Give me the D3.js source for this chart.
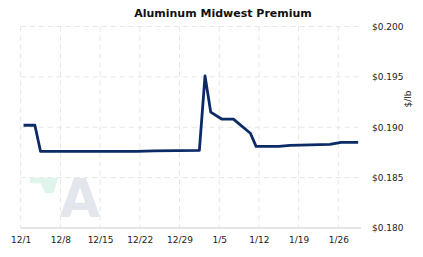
<!DOCTYPE html>
<html>
<head>
<meta charset="utf-8">
<script src="https://cdn.jsdelivr.net/npm/d3@7"></script>
<style>
  body { margin: 0; background: #fff; }
  text { font-family: "DejaVu Sans", Verdana, sans-serif; }
</style>
</head>
<body>
<div id="chart"></div>
<script>
var svgWidth = 423;
var svgHeight = 257;

// data
var dates = ["2018-12-01", "2018-12-03", "2018-12-04", "2018-12-21", "2018-12-24",
  "2019-01-01", "2019-01-02", "2019-01-03", "2019-01-05", "2019-01-07",
  "2019-01-10", "2019-01-11", "2019-01-15", "2019-01-17", "2019-01-24",
  "2019-01-26", "2019-01-29"];
var prices = [0.1902, 0.1902, 0.1876, 0.1876, 0.18765,
  0.1877, 0.1951, 0.1915, 0.1908, 0.1908,
  0.1894, 0.1881, 0.1881, 0.1882, 0.1883,
  0.1885, 0.1885];
var yTicks = [0.180, 0.185, 0.190, 0.195, 0.200];
var xTickLabels = ["12/1", "12/8", "12/15", "12/22", "12/29", "1/5", "1/12", "1/19", "1/26"];

var parseDate = d3.timeParse("%Y-%m-%d");
var start = parseDate("2018-12-01");
var end = parseDate("2019-01-30");

var data = dates.map(function(d, i) {
  // points sit mid-day
  return { date: d3.timeHour.offset(parseDate(d), 12), price: prices[i] };
});
var xTickDates = xTickLabels.map(function(d, i) { return d3.timeDay.offset(start, 7 * i); });

var margin = { top: 26.5, right: 62, bottom: 29, left: 20.7 };
var width = svgWidth - margin.left - margin.right;
var height = svgHeight - margin.top - margin.bottom;

var svg = d3.select("#chart")
  .append("svg")
  .attr("width", svgWidth)
  .attr("height", svgHeight);

// watermark
var mark = svg.append("g").attr("transform", "translate(30, 177.7)");
mark.append("path")
  .attr("d", "M0,0 L28.3,0 L23.3,15.6 L15,15.6 L10.7,5.6 L0,5.6 Z")
  .attr("fill", "#dff5ec");
mark.append("text")
  .attr("x", 50)
  .attr("y", 39.5)
  .attr("text-anchor", "middle")
  .attr("font-size", 53)
  .attr("font-weight", "bold")
  .attr("fill", "#e3e6ed")
  .text("A");

var chartGroup = svg.append("g")
  .attr("transform", `translate(${margin.left}, ${margin.top})`);

var xScale = d3.scaleTime().domain([start, end]).range([0, width]);
var yScale = d3.scaleLinear().domain([0.18, 0.2]).range([height, 0]);

// grid
chartGroup.append("g")
  .selectAll("line")
  .data(xTickDates)
  .enter()
  .append("line")
  .attr("x1", d => xScale(d)).attr("x2", d => xScale(d))
  .attr("y1", 0).attr("y2", height)
  .attr("stroke", "#e6e6e6")
  .attr("stroke-dasharray", "5,4");

chartGroup.append("g")
  .selectAll("line")
  .data(yTicks.filter(d => d > 0.18))
  .enter()
  .append("line")
  .attr("x1", 0).attr("x2", width)
  .attr("y1", d => yScale(d)).attr("y2", d => yScale(d))
  .attr("stroke", "#e6e6e6")
  .attr("stroke-dasharray", "5,4");

// base line
chartGroup.append("line")
  .attr("x1", 0).attr("x2", width)
  .attr("y1", height).attr("y2", height)
  .attr("stroke", "#e4e4e4")
  .attr("stroke-width", 2);

// x axis labels
var xAxis = d3.axisBottom(xScale)
  .tickValues(xTickDates)
  .tickFormat((d, i) => xTickLabels[i])
  .tickSize(0)
  .tickPadding(9);
chartGroup.append("g")
  .attr("transform", `translate(0, ${height})`)
  .call(xAxis)
  .call(g => g.select(".domain").remove())
  .selectAll("text")
  .attr("font-family", "DejaVu Sans, Verdana, sans-serif")
  .attr("font-size", 9)
  .attr("fill", "#222");

// y axis labels on right
var yAxis = d3.axisRight(yScale)
  .tickValues(yTicks)
  .tickFormat(d => "$" + d3.format(".3f")(d))
  .tickSize(0)
  .tickPadding(11);
chartGroup.append("g")
  .attr("transform", `translate(${width}, 0)`)
  .call(yAxis)
  .call(g => g.select(".domain").remove())
  .selectAll("text")
  .attr("font-family", "DejaVu Sans, Verdana, sans-serif")
  .attr("font-size", 9)
  .attr("fill", "#222");

// unit label
svg.append("text")
  .attr("transform", "translate(411, 99) rotate(-90)")
  .attr("text-anchor", "middle")
  .attr("font-size", 9)
  .attr("fill", "#222")
  .text("$/lb");

// title
svg.append("text")
  .attr("x", 223)
  .attr("y", 17)
  .attr("text-anchor", "middle")
  .attr("font-size", 11)
  .attr("font-weight", "bold")
  .attr("fill", "#111")
  .text("Aluminum Midwest Premium");

// price line
var line = d3.line()
  .x(d => xScale(d.date))
  .y(d => yScale(d.price));

chartGroup.append("path")
  .datum(data)
  .attr("d", line)
  .attr("fill", "none")
  .attr("stroke", "#0b2a66")
  .attr("stroke-width", 2.8)
  .attr("stroke-linejoin", "round");
</script>
</body>
</html>
